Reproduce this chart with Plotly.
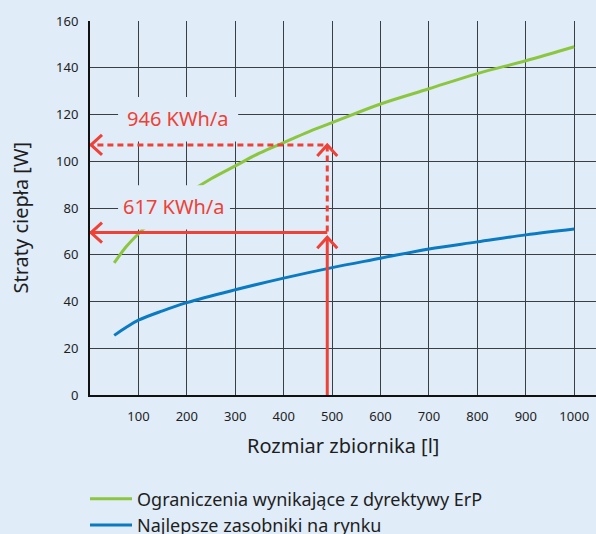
import plotly.graph_objects as go

# ---- data ----
tank_size = [50, 75, 100, 150, 200, 250, 300, 350, 400, 450, 500, 600, 700, 800, 900, 1000]
erp_limit = [56.5, 63.5, 69, 78.5, 86, 92.5, 98, 103.5, 108, 112.5, 116.5, 124.5, 131, 137.5, 143, 149]

best_size = [50, 75, 100, 150, 200, 300, 400, 500, 600, 700, 800, 900, 1000]
best_loss = [25.5, 29, 32, 36, 39.5, 45, 50, 54.5, 58.5, 62.5, 65.5, 68.5, 71]

x_ticks = [100, 200, 300, 400, 500, 600, 700, 800, 900, 1000]
y_ticks = [0, 20, 40, 60, 80, 100, 120, 140, 160]

series_names = ["Ograniczenia wynikające z dyrektywy ErP", "Najlepsze zasobniki na rynku"]
x_title = "Rozmiar zbiornika [l]"
y_title = "Straty ciepła [W]"

# example annotation values
example_size = 490
erp_example_loss = 107
best_example_loss = 69.5
erp_label = "946 KWh/a"
best_label = "617 KWh/a"

# ---- styles ----
BG = "#E0ECF8"
GREEN = "#8CC63F"
BLUE = "#0A7BC2"
RED = "#EF4136"
GRID = "#3a3f46"
FONT = "Noto Sans"
TXT = "#1e1e1e"

fig = go.Figure()
fig.add_trace(go.Scatter(x=tank_size, y=erp_limit, mode="lines", name=series_names[0],
                         line=dict(color=GREEN, width=3, shape="spline")))
fig.add_trace(go.Scatter(x=best_size, y=best_loss, mode="lines", name=series_names[1],
                         line=dict(color=BLUE, width=3, shape="spline")))

shapes = []
# label background boxes (hide grid and curve under the labels)
shapes.append(dict(type="rect", xref="x", yref="y", x0=58, x1=306, y0=108.5, y1=127.5,
                   fillcolor=BG, line=dict(width=0), layer="above"))
shapes.append(dict(type="rect", xref="x", yref="y", x0=58, x1=289, y0=70.8, y1=89.7,
                   fillcolor=BG, line=dict(width=0), layer="above"))

solid = dict(color=RED, width=3)
dashed = dict(color=RED, width=3, dash="6px,4px")
shapes.append(dict(type="line", xref="x", yref="y", x0=example_size, x1=example_size,
                   y0=0, y1=best_example_loss - 2, line=solid, layer="above"))
shapes.append(dict(type="line", xref="x", yref="y", x0=example_size, x1=0,
                   y0=best_example_loss, y1=best_example_loss, line=solid, layer="above"))
shapes.append(dict(type="line", xref="x", yref="y", x0=example_size, x1=example_size,
                   y0=best_example_loss + 0.5, y1=erp_example_loss, line=dashed, layer="above"))
shapes.append(dict(type="line", xref="x", yref="y", x0=example_size - 8, x1=1,
                   y0=erp_example_loss, y1=erp_example_loss, line=dashed, layer="above"))


def chevron(ax, ay, path):
    return dict(type="path", xref="x", yref="y", xsizemode="pixel", ysizemode="pixel",
                xanchor=ax, yanchor=ay, path=path, line=dict(color=RED, width=3),
                layer="above")


left_head = "M 12,10 L 1,0 L 12,-10"
up_head = "M -10,-11 L 0,0 L 10,-11"
shapes.append(chevron(0, best_example_loss, left_head))
shapes.append(chevron(0, erp_example_loss, left_head))
shapes.append(chevron(example_size, best_example_loss - 2, up_head))
shapes.append(chevron(example_size, erp_example_loss, up_head))

W, H = 596, 534
PL, PT, PB = 90, 21, 395  # plot-area pixel edges
PH = PB - PT
PW = W - PL

annotations = [
    dict(x=181.6, y=118.2, xref="x", yref="y", text=erp_label, showarrow=False,
         font=dict(family=FONT, size=20, color=RED)),
    dict(x=173, y=80.5, xref="x", yref="y", text=best_label, showarrow=False,
         font=dict(family=FONT, size=20, color=RED)),
    dict(x=0.5, y=-(445 - PB) / PH, xref="paper", yref="paper", text=x_title,
         showarrow=False, yanchor="middle", font=dict(family=FONT, size=20, color=TXT)),
    dict(x=-(PL - 20) / PW, y=(PB - 217.5) / PH, xref="paper", yref="paper",
         text=y_title, textangle=-90, showarrow=False, xanchor="center", yanchor="middle",
         font=dict(family=FONT, size=20, color=TXT)),
]

fig.update_layout(
    width=W, height=H,
    margin=dict(l=PL, r=0, t=PT, b=H - PB, autoexpand=False),
    paper_bgcolor=BG, plot_bgcolor=BG,
    font=dict(family=FONT, color=TXT),
    shapes=shapes,
    annotations=annotations,
    showlegend=True,
    legend=dict(x=-(PL - 85) / PW, y=-(480.5 - PB) / PH,
                xanchor="left", yanchor="top", orientation="v",
                bgcolor="rgba(0,0,0,0)", font=dict(family=FONT, size=18, color=TXT),
                tracegroupgap=0, itemwidth=42),
)

fig.update_xaxes(range=[0, 1045], tickvals=x_ticks, ticktext=[str(v) for v in x_ticks],
                 showgrid=True, gridcolor=GRID, gridwidth=1.2,
                 showline=True, linecolor="#111", linewidth=2,
                 zeroline=False, ticks="", ticklabelstandoff=8, automargin=False,
                 tickfont=dict(family=FONT, size=13, color=TXT), fixedrange=True)
fig.update_yaxes(range=[0, 160], tickvals=y_ticks, ticktext=[str(v) for v in y_ticks],
                 showgrid=True, gridcolor=GRID, gridwidth=1.2,
                 showline=True, linecolor="#111", linewidth=2,
                 zeroline=False, ticks="", ticklabelstandoff=7, automargin=False,
                 tickfont=dict(family=FONT, size=13, color=TXT), fixedrange=True)

fig.write_html("out.html", config={"displayModeBar": False},
               post_script="document.body.style.margin='0';")
